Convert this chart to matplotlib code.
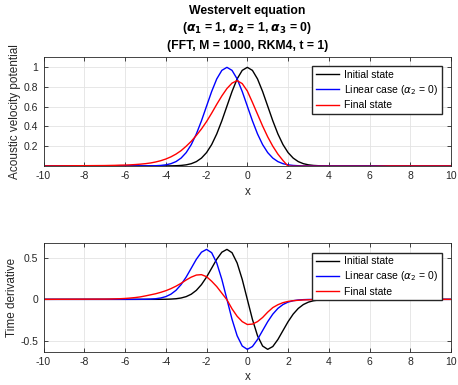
import numpy as np
import matplotlib
matplotlib.use("Agg")
import matplotlib.pyplot as plt

plt.rcParams["font.family"] = ["Liberation Sans", "DejaVu Sans"]
plt.rcParams["mathtext.fontset"] = "dejavusans"
plt.rcParams["axes.unicode_minus"] = False

# ── sample positions (x) ──────────────────────────────────────────────────────
x = np.concatenate([[-10], np.arange(-7, 7.01, 0.25), [10]])

# ── acoustic velocity potential ───────────────────────────────────────────────
u_initial = [0,
    0, 0, 0, 0, 0, 0, 0, 0,
    0, 0, 0, 0.0001, 0.0003, 0.0009, 0.0022, 0.0051,
    0.0111, 0.0228, 0.0439, 0.0796, 0.1353, 0.2163, 0.3247, 0.4578,
    0.6065, 0.7548, 0.8825, 0.9692, 1.0, 0.9692, 0.8825, 0.7548,
    0.6065, 0.4578, 0.3247, 0.2163, 0.1353, 0.0796, 0.0439, 0.0228,
    0.0111, 0.0051, 0.0022, 0.0009, 0.0003, 0.0001, 0, 0,
    0, 0, 0, 0, 0, 0, 0, 0,
    0, 0]
u_linear = [0,
    0, 0, 0, 0, 0, 0, 0, 0.0001,
    0.0003, 0.0009, 0.0022, 0.0051, 0.0111, 0.0228, 0.0439, 0.0796,
    0.1353, 0.2163, 0.3247, 0.4578, 0.6065, 0.7548, 0.8825, 0.9692,
    1.0, 0.9692, 0.8825, 0.7548, 0.6065, 0.4578, 0.3247, 0.2163,
    0.1353, 0.0796, 0.0439, 0.0228, 0.0111, 0.0051, 0.0022, 0.0009,
    0.0003, 0.0001, 0, 0, 0, 0, 0, 0,
    0, 0, 0, 0, 0, 0, 0, 0,
    0, 0]
u_final = [0,
    0.004, 0.005, 0.006, 0.008, 0.009, 0.011, 0.014, 0.018,
    0.023, 0.030, 0.040, 0.053, 0.070, 0.092, 0.120, 0.155,
    0.200, 0.250, 0.310, 0.375, 0.450, 0.535, 0.625, 0.710,
    0.785, 0.840, 0.865, 0.835, 0.760, 0.645, 0.525, 0.405,
    0.295, 0.200, 0.120, 0.055, -0.002, -0.003, -0.003, -0.003,
    -0.003, -0.003, -0.003, -0.003, -0.003, -0.003, -0.003, -0.003,
    -0.003, -0.003, -0.003, -0.003, -0.003, -0.003, -0.002, -0.001,
    0, 0]

# ── time derivative ───────────────────────────────────────────────────────────
ut_initial = [0,
    0, 0, 0, 0, 0, 0, 0, 0,
    0, 0.0001, 0.0002, 0.0005, 0.0013, 0.0034, 0.0077, 0.0166,
    0.0333, 0.0627, 0.1098, 0.1791, 0.2707, 0.3785, 0.4870, 0.5723,
    0.6065, 0.5661, 0.4413, 0.2423, 0, -0.2423, -0.4413, -0.5661,
    -0.6065, -0.5723, -0.4870, -0.3785, -0.2707, -0.1791, -0.1098, -0.0627,
    -0.0333, -0.0166, -0.0077, -0.0034, -0.0013, -0.0005, -0.0002, 0,
    0, 0, 0, 0, 0, 0, 0, 0,
    0, 0]
ut_linear = [0,
    0, 0, 0, 0, 0, 0.0001, 0.0002, 0.0005,
    0.0013, 0.0034, 0.0077, 0.0166, 0.0333, 0.0627, 0.1098, 0.1791,
    0.2707, 0.3785, 0.4870, 0.5723, 0.6065, 0.5661, 0.4413, 0.2423,
    0, -0.2423, -0.4413, -0.5661, -0.6065, -0.5723, -0.4870, -0.3785,
    -0.2707, -0.1791, -0.1098, -0.0627, -0.0333, -0.0166, -0.0077, -0.0034,
    -0.0013, -0.0005, -0.0002, 0, 0, 0, 0, 0,
    0, 0, 0, 0, 0, 0, 0, 0,
    0, 0]
ut_final = [0,
    0.003, 0.004, 0.006, 0.008, 0.011, 0.016, 0.022, 0.030,
    0.042, 0.055, 0.068, 0.085, 0.105, 0.130, 0.160, 0.195,
    0.235, 0.270, 0.295, 0.300, 0.275, 0.220, 0.155, 0.075,
    -0.005, -0.115, -0.205, -0.270, -0.305, -0.300, -0.270, -0.220,
    -0.155, -0.100, -0.065, -0.040, -0.025, -0.016, -0.011, -0.007,
    -0.005, -0.004, -0.003, -0.002, -0.001, -0.001, 0, 0,
    0, 0, 0, 0, 0, 0, 0, 0,
    0, 0]

labels = ["Initial state", r"Linear case ($\alpha_2$ = 0)", "Final state"]
colors = ["k", "#0000ff", "#ff0000"]

xticks = list(range(-10, 11, 2))
top_yticks = [0.2, 0.4, 0.6, 0.8, 1.0]
top_yticklabels = ["0.2", "0.4", "0.6", "0.8", "1"]
bot_yticks = [-0.5, 0, 0.5]
bot_yticklabels = ["-0.5", "0", "0.5"]

AX_COLOR = "#262626"
GRID_COLOR = "#e3e3e3"


def style_axes(ax):
    ax.set_xlim(-10, 10)
    ax.set_xticks(xticks)
    ax.grid(True, color=GRID_COLOR, linewidth=0.6)
    ax.set_axisbelow(True)
    ax.tick_params(direction="in", length=3, width=0.6, labelsize=7.5,
                   colors=AX_COLOR, top=True, right=True, pad=4)
    for s in ax.spines.values():
        s.set_color(AX_COLOR)
        s.set_linewidth(0.6)
    ax.set_xlabel("x", fontsize=8.5, color=AX_COLOR, labelpad=3)
    ax.legend(loc="upper right", fontsize=7.5, fancybox=False,
              edgecolor=AX_COLOR, framealpha=1, borderaxespad=0.9,
              handlelength=2.2, handletextpad=0.5, labelspacing=0.3,
              borderpad=0.35)


fig = plt.figure(figsize=(4.58, 3.85), dpi=100, facecolor="white")
ax1 = fig.add_axes([0.095, 0.569, 0.890, 0.283])
ax2 = fig.add_axes([0.095, 0.0865, 0.890, 0.2815])

for vals, lab, col in zip([u_initial, u_linear, u_final], labels, colors):
    ax1.plot(x, vals, color=col, linewidth=1.0, label=lab)
ax1.set_ylim(0, 1.105)
ax1.set_yticks(top_yticks)
ax1.set_yticklabels(top_yticklabels)
ax1.set_ylabel("Acoustic velocity potential", fontsize=8.5, color=AX_COLOR,
               labelpad=1.5)
style_axes(ax1)
ax1.set_title("Westervelt equation\n"
              r"($\boldsymbol{\alpha}_\mathbf{1}$ = 1, $\boldsymbol{\alpha}_\mathbf{2}$ = 1, "
              r"$\boldsymbol{\alpha}_\mathbf{3}$ = 0)" "\n"
              "(FFT, M = 1000, RKM4, t = 1)",
              fontsize=8.8, fontweight="bold", color="black", pad=6, linespacing=1.35)

for vals, lab, col in zip([ut_initial, ut_linear, ut_final], labels, colors):
    ax2.plot(x, vals, color=col, linewidth=1.0, label=lab)
ax2.set_ylim(-0.635, 0.68)
ax2.set_yticks(bot_yticks)
ax2.set_yticklabels(bot_yticklabels)
ax2.set_ylabel("Time derivative", fontsize=8.5, color=AX_COLOR, labelpad=1.5)
style_axes(ax2)

fig.savefig("out.png", dpi=100, facecolor="white")
